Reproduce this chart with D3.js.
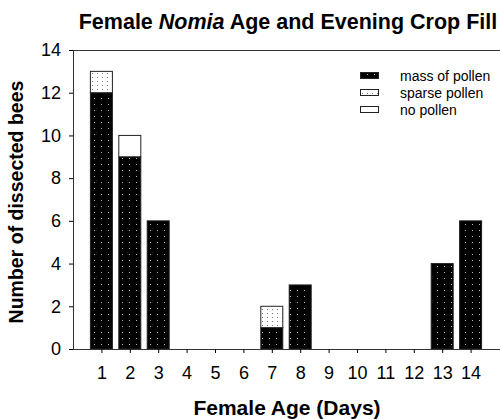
<!DOCTYPE html>
<html><head><meta charset="utf-8">
<script src="https://cdn.jsdelivr.net/npm/d3@7"></script>
<style>body{margin:0;background:#fff}svg{display:block;font-family:"Liberation Sans",Arial,sans-serif}</style>
</head><body>
<script>
const ages = [1,2,3,4,5,6,7,8,9,10,11,12,13,14];
const massPollen = [12,9,6,0,0,0,1,3,0,0,0,0,4,6];
const sparsePollen = [1,0,0,0,0,0,1,0,0,0,0,0,0,0];
const noPollen = [0,1,0,0,0,0,0,0,0,0,0,0,0,0];
const seriesNames = ["mass of pollen","sparse pollen","no pollen"];
const yTicks = [0,2,4,6,8,10,12,14];

const W=500,H=419;
const svg=d3.select("body").append("svg").attr("width",W).attr("height",H);
const defs=svg.append("defs");
const pm=defs.append("pattern").attr("id","pMass").attr("patternUnits","userSpaceOnUse").attr("width",7).attr("height",6);
pm.append("rect").attr("width",7).attr("height",6).attr("fill","#000");
pm.append("rect").attr("x",3).attr("y",2).attr("width",1).attr("height",1).attr("fill","#bbb");
const ps=defs.append("pattern").attr("id","pSparse").attr("patternUnits","userSpaceOnUse").attr("width",5).attr("height",4);
ps.append("rect").attr("width",5).attr("height",4).attr("fill","#fff");
ps.append("rect").attr("x",2).attr("y",1).attr("width",1).attr("height",1).attr("fill","#777");
const fills=["url(#pMass)","url(#pSparse)","#fff"];

const x=d3.scaleLinear().domain([0,15]).range([73,499]);
const y=d3.scaleLinear().domain([0,14]).range([349,50]);
const barW=22;

const rows=ages.map((a,i)=>({age:a,mass:massPollen[i],sparse:sparsePollen[i],none:noPollen[i]}));
const stack=d3.stack().keys(["mass","sparse","none"])(rows);

svg.append("g").selectAll("g").data(stack).join("g").attr("fill",(d,i)=>fills[i])
 .selectAll("rect").data(d=>d.filter(e=>e[1]-e[0]>0)).join("rect")
 .attr("x",d=>x(d.data.age)-barW/2).attr("width",barW)
 .attr("y",d=>y(d[1])).attr("height",d=>y(d[0])-y(d[1]))
 .attr("stroke","#222").attr("stroke-width",1);

svg.append("line").attr("x1",73).attr("x2",500).attr("y1",50.5).attr("y2",50.5).attr("stroke","#333");

const ya=d3.axisLeft(y).tickValues(yTicks).tickSize(4).tickPadding(8);
const gy=svg.append("g").attr("transform","translate(73,0)").call(ya);
gy.select(".domain").attr("stroke","#333");
gy.selectAll("text").attr("font-size",18).attr("fill","#000").attr("font-family","Liberation Sans, Arial");

const xa=d3.axisBottom(x).tickValues(ages).tickSize(4).tickPadding(13).tickSizeOuter(0);
const gx=svg.append("g").attr("transform","translate(0,349)").call(xa);
gx.select(".domain").attr("d","M73,0.5H500").attr("stroke","#333");
gx.selectAll("text").attr("font-size",18).attr("fill","#000").attr("font-family","Liberation Sans, Arial");

const t=svg.append("text").attr("x",288).attr("y",29).attr("text-anchor","middle")
 .attr("font-size",21.5).attr("font-weight","bold");
t.append("tspan").text("Female ");
t.append("tspan").attr("font-style","italic").text("Nomia");
t.append("tspan").text(" Age and Evening Crop Fill");

svg.append("text").attr("x",287).attr("y",415).attr("text-anchor","middle")
 .attr("font-size",21).attr("font-weight","bold").text("Female Age (Days)");

svg.append("text").attr("transform","translate(23,202) rotate(-90)").attr("text-anchor","middle")
 .attr("font-size",19.5).attr("font-weight","bold").text("Number of dissected bees");

const lg=svg.append("g");
seriesNames.forEach((n,i)=>{
  const yy=72+i*17;
  lg.append("rect").attr("x",360.5).attr("y",yy+0.5).attr("width",18).attr("height",6)
    .attr("fill",fills[i]).attr("stroke","#222");
  lg.append("text").attr("x",400).attr("y",yy+8.5).attr("font-size",14).text(n);
});
</script>
</body></html>
